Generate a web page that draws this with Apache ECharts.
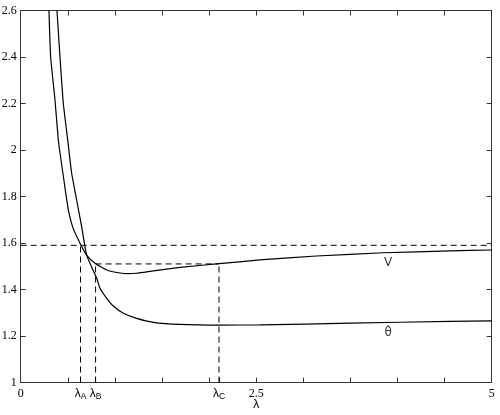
<!DOCTYPE html>
<html>
<head>
<meta charset="utf-8">
<script src="https://cdn.jsdelivr.net/npm/echarts@6/dist/echarts.min.js"></script>
<style>
html,body{margin:0;padding:0;background:#fff;}
#chart{width:500px;height:415px;}
</style>
</head>
<body>
<div id="chart"></div>
<script>
// ---- data ----
const vLambda = [0.30, 0.318, 0.364, 0.40, 0.428, 0.463, 0.506, 0.555, 0.635, 0.70, 0.789, 0.913, 1.054, 1.14, 1.231, 1.408, 1.691, 2.105, 2.54, 3.14, 3.85, 4.557, 5.0];
const vValues = [2.60, 2.40, 2.215, 2.04, 1.957, 1.858, 1.742, 1.665, 1.595, 1.548, 1.513, 1.484, 1.471, 1.468, 1.470, 1.480, 1.495, 1.511, 1.527, 1.544, 1.558, 1.566, 1.570];

const thetaLambda = [0.385, 0.417, 0.452, 0.499, 0.541, 0.594, 0.647, 0.70, 0.807, 0.842, 0.913, 0.983, 1.09, 1.231, 1.408, 1.691, 2.116, 2.54, 3.5, 4.557, 5.0];
const thetaValues = [2.60, 2.40, 2.202, 2.043, 1.90, 1.785, 1.670, 1.548, 1.448, 1.405, 1.362, 1.329, 1.298, 1.276, 1.259, 1.250, 1.247, 1.248, 1.255, 1.263, 1.265];

const lambdaMarks = [0.635, 0.795, 2.105];       // λA, λB, λC
const lambdaNames = ['A', 'B', 'C'];
const levelHigh = 1.59;
const levelLow = 1.51;

const xTickValues = [0, 0.5, 1, 1.5, 2, 2.5, 3, 3.5, 4, 4.5, 5];
const xNumberLabels = [0, 2.5, 5];
const yTickValues = [1, 1.2, 1.4, 1.6, 1.8, 2, 2.2, 2.4, 2.6];

const curveNames = ['V', 'θ\u0307'];
const curveLabelLambda = [3.9, 3.9];
const curveLabelValues = [1.514, 1.213];

// ---- build ----
const xMin = 0, xMax = 5, yMin = 1, yMax = 2.6;
const zip = (a, b) => a.map((x, i) => [x, b[i]]);

const dashed = { color: '#000', width: 1, type: [6, 4] };

const dashedSeries = [
  [[xMin, levelHigh], [xMax, levelHigh]],
  [[lambdaMarks[1], levelLow], [lambdaMarks[2], levelLow]],
  [[lambdaMarks[0], yMin], [lambdaMarks[0], levelHigh]],
  [[lambdaMarks[1], yMin], [lambdaMarks[1], levelLow]],
  [[lambdaMarks[2], yMin], [lambdaMarks[2], levelLow]]
].map(d => ({
  type: 'line', data: d, showSymbol: false, symbol: 'none',
  lineStyle: dashed, silent: true, z: 1
}));

const allXTicks = xTickValues.concat(lambdaMarks).sort((a, b) => a - b);
const labelValues = xNumberLabels.concat(lambdaMarks).sort((a, b) => a - b);

function xFormatter(v) {
  const i = lambdaMarks.findIndex(m => Math.abs(m - v) < 1e-9);
  if (i >= 0) return '{g|λ}{s|' + lambdaNames[i] + '}';
  return '{n|' + String(Number(v.toFixed(2))) + '}';
}

const axisLineStyle = { color: '#333', width: 1 };
const rich = {
  g: { fontFamily: 'Liberation Sans', fontSize: 12, color: '#000', verticalAlign: 'top', lineHeight: 14 },
  s: { fontFamily: 'Liberation Sans', fontSize: 8.5, color: '#000', verticalAlign: 'top', padding: [5, 0, 0, 0], lineHeight: 14 },
  n: { fontFamily: 'Liberation Serif', fontSize: 12, color: '#000', verticalAlign: 'top', lineHeight: 14 }
};

const option = {
  animation: false,
  backgroundColor: '#fff',
  grid: { left: 20.7, right: 8.3, top: 10.5, bottom: 32.5, containLabel: false, outerBoundsMode: 'none' },
  xAxis: [
    {
      type: 'value', min: xMin, max: xMax, interval: 0.5, position: 'bottom',
      axisLine: { show: true, lineStyle: axisLineStyle, onZero: false },
      axisTick: { show: true, inside: true, length: 5, lineStyle: { color: '#333' }, customValues: allXTicks },
      axisLabel: { show: true, margin: 5, customValues: labelValues, formatter: xFormatter, rich: rich, hideOverlap: false },
      splitLine: { show: false },
      name: 'λ', nameLocation: 'middle', nameGap: 16, nameMoveOverlap: false,
      nameTextStyle: { fontFamily: 'Liberation Sans', fontSize: 12, color: '#000' }
    },
    {
      type: 'value', min: xMin, max: xMax, interval: 0.5, position: 'top',
      axisLine: { show: true, lineStyle: axisLineStyle, onZero: false },
      axisTick: { show: true, inside: true, length: 5, lineStyle: { color: '#333' }, customValues: xTickValues },
      axisLabel: { show: false },
      splitLine: { show: false }
    }
  ],
  yAxis: [
    {
      type: 'value', min: yMin, max: yMax, interval: 0.2, position: 'left',
      axisLine: { show: true, lineStyle: axisLineStyle, onZero: false },
      axisTick: { show: true, inside: true, length: 5, lineStyle: { color: '#333' }, customValues: yTickValues },
      axisLabel: {
        show: true, margin: 4, customValues: yTickValues,
        formatter: v => String(Number(v.toFixed(1))),
        fontFamily: 'Liberation Serif', fontSize: 12, color: '#000'
      },
      splitLine: { show: false }
    },
    {
      type: 'value', min: yMin, max: yMax, interval: 0.2, position: 'right',
      axisLine: { show: true, lineStyle: axisLineStyle, onZero: false },
      axisTick: { show: true, inside: true, length: 5, lineStyle: { color: '#333' }, customValues: yTickValues },
      axisLabel: { show: false },
      splitLine: { show: false }
    }
  ],
  series: dashedSeries.concat([
    {
      type: 'line', name: curveNames[0], data: zip(vLambda, vValues),
      showSymbol: false, symbol: 'none', smooth: 0.15,
      lineStyle: { color: '#000', width: 1.2 }, z: 3
    },
    {
      type: 'line', name: curveNames[1], data: zip(thetaLambda, thetaValues),
      showSymbol: false, symbol: 'none', smooth: 0.15,
      lineStyle: { color: '#000', width: 1.2 }, z: 3
    },
    {
      type: 'scatter', symbolSize: 0, silent: true,
      data: curveNames.map((n, i) => ({ value: [curveLabelLambda[i], curveLabelValues[i]], name: n })),
      label: {
        show: true, position: 'inside', formatter: p => p.name,
        fontFamily: 'DejaVu Sans', fontSize: 12, color: '#000'
      }
    }
  ])
};

const chart = echarts.init(document.getElementById('chart'), null, { renderer: 'canvas' });
chart.setOption(option);
</script>
</body>
</html>
